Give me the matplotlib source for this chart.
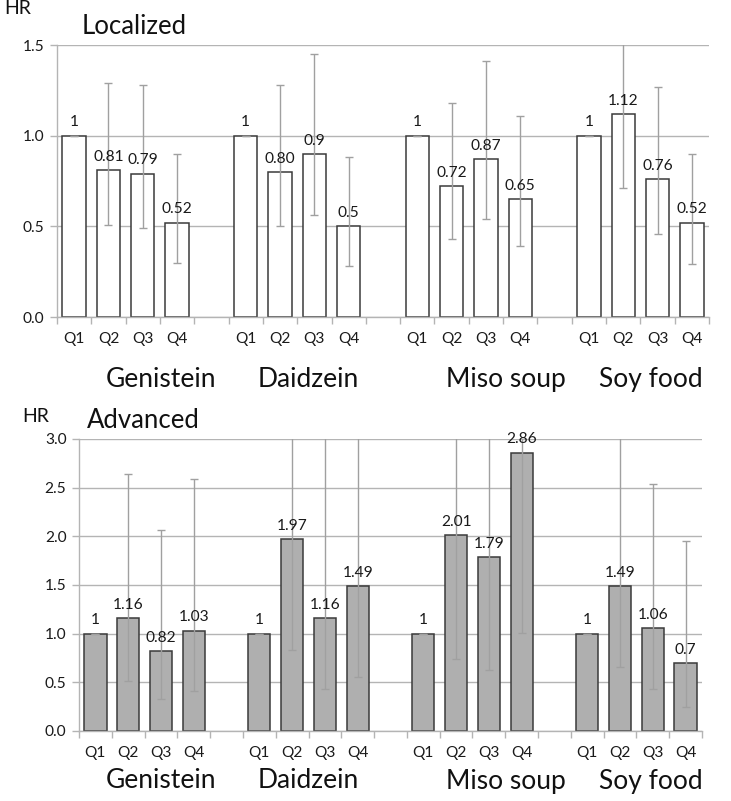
import matplotlib
matplotlib.use("Agg")
import matplotlib.pyplot as plt
import numpy as np

plt.rcParams['font.family'] = ['Lato', 'DejaVu Sans']

groups = ["Genistein", "Daidzein", "Miso soup", "Soy food"]
quartiles = ["Q1", "Q2", "Q3", "Q4"]

# Localized
loc_hr = [1, 0.81, 0.79, 0.52, 1, 0.80, 0.90, 0.50, 1, 0.72, 0.87, 0.65, 1, 1.12, 0.76, 0.52]
loc_lo = [1, 0.51, 0.49, 0.30, 1, 0.50, 0.56, 0.28, 1, 0.43, 0.54, 0.39, 1, 0.71, 0.46, 0.29]
loc_hi = [1, 1.29, 1.28, 0.90, 1, 1.28, 1.45, 0.88, 1, 1.18, 1.41, 1.11, 1, 1.77, 1.27, 0.90]
loc_lbl = ["1", "0.81", "0.79", "0.52", "1", "0.80", "0.9", "0.5",
           "1", "0.72", "0.87", "0.65", "1", "1.12", "0.76", "0.52"]

# Advanced
adv_hr = [1, 1.16, 0.82, 1.03, 1, 1.97, 1.16, 1.49, 1, 2.01, 1.79, 2.86, 1, 1.49, 1.06, 0.70]
adv_lo = [1, 0.51, 0.33, 0.41, 1, 0.83, 0.43, 0.55, 1, 0.74, 0.63, 1.01, 1, 0.66, 0.43, 0.25]
adv_hi = [1, 2.64, 2.07, 2.59, 1, 4.70, 3.10, 4.00, 1, 5.40, 5.10, 8.10, 1, 3.40, 2.54, 1.95]
adv_lbl = ["1", "1.16", "0.82", "1.03", "1", "1.97", "1.16", "1.49",
           "1", "2.01", "1.79", "2.86", "1", "1.49", "1.06", "0.7"]

W, H = 731, 801
fig = plt.figure(figsize=(W / 100, H / 100), dpi=100)

def fx(px):
    return px / W

def fy(py):
    return 1 - py / H

grid_c = "#b4b4b4"
err_c = "#a0a0a0"
edge_c = "#3a3a3a"
txt_c = "#1a1a1a"

def panel(rect, hr, lo, hi, lbl, ymax, step, face):
    ax = fig.add_axes(rect)
    pos = np.array([g * 5 + q for g in range(len(groups)) for q in range(len(quartiles))])
    hr = np.array(hr); lo = np.array(lo); hi = np.array(hi)
    ax.bar(pos, hr, width=0.68, color=face, edgecolor=edge_c, linewidth=1.1, zorder=2)
    ax.errorbar(pos, hr, yerr=[hr - lo, hi - hr], fmt='none', ecolor=err_c,
                elinewidth=1.0, capsize=2.6, capthick=1.0, zorder=3)
    for p, v, t in zip(pos, hr, lbl):
        ax.annotate(t, (p, v), xytext=(0, 4.5), textcoords='offset points',
                    ha='center', va='bottom', fontsize=11.2, color=txt_c, zorder=4)
    ax.set_xlim(-0.5, 18.5)
    ax.set_ylim(0, ymax)
    yt = np.arange(0, ymax + 1e-9, step)
    ax.set_yticks(yt)
    ax.set_yticklabels([f"{v:.1f}" for v in yt], fontsize=11.2, color=txt_c)
    ax.yaxis.grid(True, color=grid_c, linewidth=1.0, zorder=0)
    ax.set_axisbelow(True)
    ax.set_xticks(np.arange(-0.5, 19, 1.0))
    ax.set_xticklabels([])
    ax.set_xticks(pos, minor=True)
    ax.set_xticklabels(quartiles * len(groups), minor=True, fontsize=11.2, color=txt_c)
    ax.tick_params(axis='x', which='major', length=5, color=grid_c, width=1.0)
    ax.tick_params(axis='x', which='minor', length=0, pad=11)
    ax.tick_params(axis='y', length=5, color=grid_c, width=1.0, pad=4)
    for s in ['top', 'right']:
        ax.spines[s].set_visible(False)
    for s in ['left', 'bottom']:
        ax.spines[s].set_color(grid_c)
        ax.spines[s].set_linewidth(1.0)
    return ax

ax1 = panel([fx(57), fy(317), fx(652), 272 / H], loc_hr, loc_lo, loc_hi, loc_lbl, 1.5, 0.5, 'white')
ax2 = panel([fx(79), fy(731), fx(623), 292 / H], adv_hr, adv_lo, adv_hi, adv_lbl, 3.0, 0.5, '#afafaf')

group_x = [161, 308, 506, 651]
for gx, g in zip(group_x, groups):
    fig.text(fx(gx), fy(379), g, ha='center', va='center', fontsize=19, color='#111111')
    fig.text(fx(gx), fy(781), g, ha='center', va='center', fontsize=19, color='#111111')

fig.text(fx(4), fy(9), "HR", ha='left', va='center', fontsize=14, color='#111111')
fig.text(fx(82), fy(27), "Localized", ha='left', va='center', fontsize=18.5, color='#111111')
fig.text(fx(22), fy(416), "HR", ha='left', va='center', fontsize=14, color='#111111')
fig.text(fx(87), fy(421), "Advanced", ha='left', va='center', fontsize=18.5, color='#111111')

fig.savefig("out.png", dpi=100)
